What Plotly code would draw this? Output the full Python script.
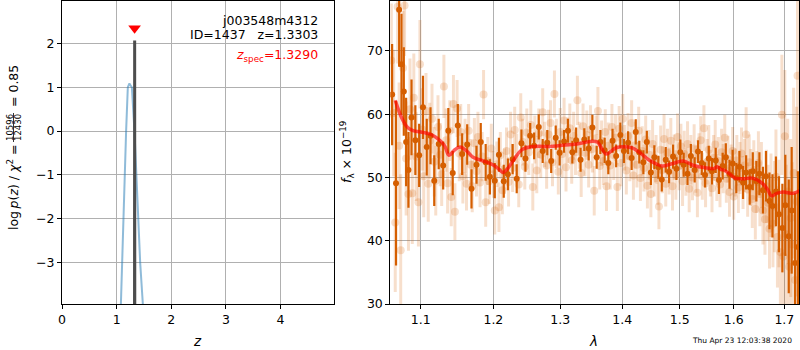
import numpy as np
import plotly.graph_objects as go

# ---------------- redshift fit: log p(z) ----------------
z_spec = 1.3290
z_best = 1.3303

# coarse grid posterior
pz_coarse_z = [1.060, 1.077, 1.100, 1.125, 1.150, 1.174, 1.205, 1.220, 1.235,
               1.250, 1.279, 1.327, 1.358, 1.389, 1.431, 1.480, 1.500]
pz_coarse_logp = [-4.7, -3.95, -3.0, -2.0, -1.0, 0.0, 1.0, 1.07, 1.09,
                  1.05, 1.0, 0.0, -1.0, -2.0, -3.0, -3.95, -4.4]

# fine grid posterior around the peak
pz_fine_z = [1.3250, 1.3303, 1.3356]
pz_fine_logp = [-12.0, 2.07, -12.0]

pz_marker_y = 2.35

# ---------------- 1D spectrum ----------------
dark_wave = [
    1.063, 1.068, 1.072, 1.075, 1.078, 1.081, 1.084, 1.088, 1.093, 1.098,
    1.103, 1.108, 1.113, 1.118, 1.124, 1.130, 1.137, 1.143, 1.150, 1.156,
    1.163, 1.169, 1.176, 1.182, 1.189, 1.195, 1.202, 1.208, 1.215, 1.221,
    1.228, 1.234, 1.241, 1.247, 1.254, 1.260, 1.267, 1.273, 1.280, 1.286,
    1.293, 1.299, 1.306, 1.312, 1.319, 1.325, 1.332, 1.338, 1.345, 1.351,
    1.358, 1.364, 1.371, 1.377, 1.384, 1.390, 1.397, 1.403, 1.410, 1.416,
    1.423, 1.429, 1.436, 1.442, 1.449, 1.455, 1.462, 1.468, 1.475, 1.481,
    1.488, 1.494, 1.501, 1.507, 1.514, 1.520, 1.527, 1.533, 1.540, 1.546,
    1.553, 1.559, 1.566, 1.572, 1.579, 1.585, 1.592, 1.598, 1.605, 1.611,
    1.618, 1.624, 1.631, 1.637, 1.644, 1.650, 1.657, 1.663, 1.670, 1.676,
    1.683, 1.689, 1.696, 1.702, 1.709, 1.715, 1.722, 1.728]
dark_flux = [
    63.1, 49.1, 76.5, 67.9, 63.6, 55.6, 51.2, 59.5, 55.9, 53.5,
    61.1, 54.8, 56.6, 49.5, 55.3, 51.9, 57.4, 50.7, 58.2, 53.7,
    55.2, 48.2, 52.0, 55.6, 52.4, 50.1, 49.5, 53.6, 49.4, 50.5,
    52.9, 49.8, 55.4, 53.0, 56.6, 55.0, 58.0, 54.2, 55.5, 52.6,
    56.3, 53.9, 55.7, 57.4, 54.0, 55.9, 52.8, 56.0, 54.6, 57.9,
    53.2, 55.6, 54.3, 52.3, 55.8, 53.4, 56.7, 54.2, 55.5, 53.1,
    57.2, 54.0, 52.4, 55.6, 50.8, 53.2, 51.6, 49.7, 52.8, 50.9,
    53.3, 51.4, 54.0, 52.0, 50.6, 53.4, 51.2, 54.1, 52.3, 50.4,
    53.0, 51.0, 52.7, 49.6, 51.8, 53.2, 50.5, 52.2, 49.9, 51.7,
    49.2, 50.8, 48.5, 51.0, 49.4, 50.6, 48.0, 50.2, 46.3, 45.5,
    47.8, 44.2, 42.0, 45.6, 40.7, 44.8, 36.5, 39.0]
dark_err = [
    8.0, 13.0, 9.0, 8.0, 7.0, 7.0, 6.0, 6.0, 5.5, 5.0,
    5.0, 4.5, 4.5, 4.0, 4.0, 3.8, 3.6, 3.5, 3.4, 3.3,
    3.2, 3.1, 3.0, 3.0, 2.9, 2.8, 2.8, 2.7, 2.6, 2.5,
    2.4, 2.3, 2.2, 2.1, 2.0, 2.1, 2.0, 1.9, 2.0, 1.9,
    1.9, 2.0, 1.8, 1.9, 1.8, 2.0, 1.9, 1.8, 1.9, 2.0,
    1.8, 1.9, 2.0, 1.8, 1.9, 1.8, 2.0, 1.9, 1.8, 1.9,
    2.0, 1.8, 1.9, 1.8, 2.0, 1.9, 1.8, 1.9, 2.0, 1.8,
    1.9, 1.8, 2.0, 1.9, 1.8, 1.9, 2.0, 1.8, 1.9, 2.0,
    2.0, 2.1, 2.0, 2.2, 2.1, 2.2, 2.3, 2.2, 2.4, 2.5,
    2.6, 2.7, 2.8, 3.0, 3.2, 3.4, 3.7, 4.0, 4.5, 5.0,
    5.5, 6.0, 7.0, 8.0, 9.0, 10.0, 11.0, 12.0]

light_wave = [
    1.062, 1.065, 1.067, 1.070, 1.072, 1.074, 1.077, 1.079, 1.081, 1.084,
    1.086, 1.089, 1.091, 1.094, 1.097, 1.099, 1.102, 1.104, 1.107, 1.110,
    1.112, 1.115, 1.118, 1.120, 1.123, 1.126, 1.128, 1.131, 1.134, 1.136,
    1.139, 1.141, 1.144, 1.146, 1.149, 1.152, 1.154, 1.157, 1.160, 1.162,
    1.165, 1.168, 1.170, 1.173, 1.176, 1.178, 1.181, 1.184, 1.186, 1.189,
    1.192, 1.194, 1.197, 1.200, 1.202, 1.205, 1.208, 1.210, 1.213, 1.216,
    1.219, 1.222, 1.225, 1.228, 1.231, 1.234, 1.237, 1.240, 1.243, 1.246,
    1.249, 1.252, 1.255, 1.258, 1.261, 1.264, 1.267, 1.270, 1.273, 1.276,
    1.279, 1.282, 1.285, 1.288, 1.291, 1.294, 1.297, 1.300, 1.303, 1.306,
    1.309, 1.312, 1.315, 1.318, 1.321, 1.324, 1.327, 1.330, 1.333, 1.336,
    1.339, 1.342, 1.345, 1.348, 1.351, 1.354, 1.357, 1.360, 1.363, 1.366,
    1.369, 1.372, 1.374, 1.377, 1.380, 1.383, 1.386, 1.389, 1.392, 1.395,
    1.398, 1.401, 1.404, 1.407, 1.410, 1.413, 1.416, 1.419, 1.422, 1.425,
    1.428, 1.431, 1.434, 1.437, 1.440, 1.443, 1.446, 1.449, 1.452, 1.455,
    1.458, 1.461, 1.463, 1.466, 1.469, 1.472, 1.475, 1.478, 1.481, 1.484,
    1.487, 1.490, 1.493, 1.496, 1.499, 1.502, 1.505, 1.508, 1.511, 1.514,
    1.517, 1.520, 1.523, 1.526, 1.529, 1.532, 1.535, 1.538, 1.541, 1.544,
    1.547, 1.550, 1.553, 1.556, 1.559, 1.562, 1.565, 1.568, 1.571, 1.574,
    1.577, 1.580, 1.583, 1.586, 1.589, 1.592, 1.595, 1.598, 1.600, 1.603,
    1.606, 1.609, 1.612, 1.615, 1.618, 1.621, 1.624, 1.627, 1.630, 1.633,
    1.636, 1.639, 1.642, 1.645, 1.648, 1.651, 1.654, 1.657, 1.661, 1.664,
    1.667, 1.670, 1.673, 1.677, 1.680, 1.683, 1.686, 1.689, 1.692, 1.695,
    1.698, 1.701, 1.704, 1.707, 1.710, 1.713, 1.716, 1.719, 1.722, 1.725,
    1.727]
light_flux = [
    68.5, 60.2, 42.9, 77.0, 55.0, 38.5, 67.3, 77.2, 53.0, 47.4,
    60.8, 47.5, 62.6, 53.3, 46.1, 67.9, 57.6, 50.2, 60.5, 49.0,
    55.8, 59.3, 52.5, 49.5, 58.0, 53.6, 50.5, 64.4, 55.9, 49.1,
    57.4, 46.9, 61.6, 44.6, 60.9, 53.8, 57.2, 50.2, 55.0, 49.0,
    57.4, 52.0, 48.6, 55.4, 51.0, 56.4, 49.2, 53.3, 63.1, 46.1,
    52.6, 49.4, 54.6, 50.5, 44.8, 52.1, 45.3, 53.5, 48.0, 51.0,
    54.2, 49.3, 56.8, 51.5, 57.5, 53.0, 48.9, 59.5, 55.6, 51.7,
    57.1, 54.0, 58.3, 48.5, 56.0, 51.1, 57.0, 53.6, 60.3, 55.2,
    51.9, 56.8, 58.6, 52.4, 63.2, 55.4, 50.9, 57.2, 53.7, 59.0,
    51.6, 55.9, 57.8, 52.7, 56.6, 54.0, 62.2, 55.1, 50.7, 58.1,
    53.9, 56.7, 52.0, 57.6, 54.5, 47.9, 56.2, 60.5, 51.8, 55.4,
    52.6, 57.2, 48.6, 55.0, 51.9, 58.0, 53.5, 56.3, 48.5, 57.7,
    52.3, 59.3, 54.7, 51.1, 56.5, 53.3, 58.6, 50.3, 55.1, 52.0,
    57.4, 49.9, 54.2, 51.5, 56.0, 48.7, 53.6, 47.4, 55.3, 50.6,
    53.0, 49.6, 45.4, 54.4, 51.2, 56.1, 49.0, 53.9, 51.0, 55.8,
    48.6, 53.2, 50.4, 56.4, 51.8, 54.9, 49.4, 53.7, 50.9, 55.3,
    48.2, 52.8, 50.0, 54.6, 51.3, 47.6, 53.4, 55.9, 50.2, 57.8,
    49.1, 52.5, 54.4, 50.7, 48.3, 53.1, 55.2, 50.0, 52.6, 48.9,
    54.0, 51.4, 56.3, 49.8, 52.9, 47.7, 51.6, 54.2, 47.0, 50.8,
    52.7, 48.4, 51.5, 53.8, 49.2, 51.9, 56.8, 48.1, 52.4, 50.0,
    46.6, 51.2, 45.0, 49.3, 52.3, 47.4, 50.4, 44.8, 43.4, 48.6,
    46.0, 41.9, 47.2, 42.7, 45.4, 50.1, 40.6, 44.3, 38.2, 59.9,
    37.5, 56.5, 41.0, 47.8, 35.9, 43.6, 39.4, 50.7, 33.8, 46.2,
    66.1]
light_err = [
    9.0, 10.0, 11.0, 9.0, 10.0, 12.0, 9.0, 8.0, 9.0, 9.0,
    8.0, 8.0, 7.0, 7.0, 7.0, 7.0, 6.5, 6.5, 6.0, 6.0,
    6.0, 5.5, 5.5, 5.5, 5.0, 5.0, 5.0, 5.0, 5.0, 4.8,
    4.8, 4.6, 4.6, 4.5, 4.5, 4.4, 4.4, 4.3, 4.3, 4.2,
    4.2, 4.1, 4.1, 4.0, 4.0, 4.0, 3.9, 3.9, 3.9, 3.9,
    3.8, 3.6, 3.9, 3.7, 3.8, 3.6, 3.9, 3.7, 3.8, 3.6,
    3.7, 3.9, 3.6, 3.8, 3.7, 3.9, 3.6, 3.8, 3.7, 3.6,
    3.8, 3.6, 3.9, 3.7, 3.8, 3.6, 3.9, 3.7, 3.8, 3.6,
    3.7, 3.9, 3.6, 3.8, 3.7, 3.9, 3.6, 3.8, 3.7, 3.6,
    3.8, 3.6, 3.9, 3.7, 3.8, 3.6, 3.9, 3.7, 3.8, 3.6,
    3.7, 3.9, 3.6, 3.8, 3.7, 3.9, 3.6, 3.8, 3.7, 3.6,
    3.8, 3.6, 3.9, 3.7, 3.8, 3.6, 3.9, 3.7, 3.8, 3.6,
    3.7, 3.9, 3.6, 3.8, 3.7, 3.9, 3.6, 3.8, 3.7, 3.6,
    3.8, 3.6, 3.9, 3.7, 3.8, 3.6, 3.9, 3.7, 3.8, 3.6,
    3.7, 3.9, 3.6, 3.8, 3.7, 3.9, 3.6, 3.8, 3.7, 3.6,
    3.8, 3.6, 3.9, 3.7, 3.8, 3.6, 3.9, 3.7, 3.8, 3.6,
    3.7, 3.9, 3.6, 3.8, 3.7, 3.9, 3.6, 3.8, 3.7, 3.6,
    3.8, 3.6, 3.9, 3.7, 3.8, 3.6, 3.9, 3.7, 3.8, 3.6,
    3.7, 3.9, 3.6, 3.8, 3.7, 3.9, 3.6, 3.8, 3.7, 3.8,
    4.0, 4.0, 4.1, 4.1, 4.2, 4.2, 4.3, 4.3, 4.4, 4.5,
    4.6, 4.7, 4.8, 4.9, 5.0, 5.1, 5.2, 5.4, 5.6, 5.8,
    6.0, 6.3, 6.6, 6.9, 7.2, 7.5, 8.0, 8.5, 9.0, 9.5,
    10.0, 10.5, 11.0, 11.5, 12.0, 12.5, 13.0, 13.5, 14.0, 15.0,
    16.0]

model_wave = [1.067, 1.075, 1.083, 1.090, 1.100, 1.114, 1.126, 1.132, 1.138,
              1.145, 1.153, 1.162, 1.171, 1.186, 1.201, 1.208, 1.214, 1.222,
              1.229, 1.242, 1.260, 1.285, 1.300, 1.326, 1.348, 1.359, 1.366,
              1.373, 1.381, 1.390, 1.416, 1.433, 1.445, 1.457, 1.469, 1.487,
              1.506, 1.525, 1.550, 1.562, 1.569, 1.575, 1.583, 1.593, 1.603,
              1.620, 1.636, 1.657, 1.667, 1.674, 1.685, 1.698, 1.719, 1.735]
model_flux = [62.2, 59.5, 57.9, 57.4, 57.2, 56.8, 55.8, 55.0, 53.5,
              54.3, 54.8, 54.2, 53.2, 52.6, 51.9, 51.3, 50.8, 51.6,
              52.7, 54.4, 54.9, 54.9, 55.05, 55.3, 55.7, 55.6, 54.6,
              53.7, 54.1, 54.7, 54.7, 53.7, 52.8, 52.2, 51.8, 52.2,
              52.6, 51.9, 51.5, 51.4, 51.7, 51.3, 51.1, 50.5, 49.9,
              49.8, 49.9, 49.0, 48.0, 47.1, 47.5, 47.7, 47.5, 48.1]

assert len(dark_wave) == len(dark_flux) == len(dark_err)
assert len(light_wave) == len(light_flux) == len(light_err)
assert len(model_wave) == len(model_flux)

z_ticks = [0, 1, 2, 3, 4]
logp_ticks = [-3, -2, -1, 0, 1, 2]
wave_ticks = [1.1, 1.2, 1.3, 1.4, 1.5, 1.6, 1.7]
flux_ticks = [30, 40, 50, 60, 70]

# ---------------- styling ----------------
W, H = 800, 350
FONT = "DejaVu Sans"
G141 = "#d55e00"
G141_FAINT = "rgba(213,94,0,0.2)"
GRID = "#b0b0b0"


def px_x(x):
    return x / W


def px_y(y):
    return 1 - y / H


fig = go.Figure()

# left panel: p(z)
fig.add_trace(go.Scatter(
    x=pz_coarse_z, y=pz_coarse_logp, mode="lines",
    line=dict(color="rgba(31,119,180,0.5)", width=2),
    xaxis="x", yaxis="y", hoverinfo="skip"))
fig.add_trace(go.Scatter(
    x=pz_fine_z, y=pz_fine_logp, mode="lines",
    line=dict(color="#4d4d4d", width=3),
    xaxis="x", yaxis="y", hoverinfo="skip"))
fig.add_trace(go.Scatter(
    x=[z_spec], y=[pz_marker_y], mode="markers",
    marker=dict(symbol="triangle-down", size=11, color="red"),
    xaxis="x", yaxis="y", hoverinfo="skip"))

# right panel: spectrum
fig.add_trace(go.Scatter(
    x=light_wave, y=light_flux, mode="markers",
    marker=dict(size=8, color=G141_FAINT, line=dict(width=0)),
    error_y=dict(type="data", array=light_err, color=G141_FAINT,
                 thickness=3, width=0),
    xaxis="x2", yaxis="y2", hoverinfo="skip"))
fig.add_trace(go.Scatter(
    x=dark_wave, y=dark_flux, mode="markers",
    marker=dict(size=6, color=G141, line=dict(width=0)),
    error_y=dict(type="data", array=dark_err, color=G141,
                 thickness=2.2, width=0),
    xaxis="x2", yaxis="y2", hoverinfo="skip"))
fig.add_trace(go.Scatter(
    x=model_wave, y=model_flux, mode="lines",
    line=dict(color="rgba(255,0,0,0.65)", width=3.5, shape="spline"),
    xaxis="x2", yaxis="y2", hoverinfo="skip"))

axis_common = dict(
    showgrid=True, gridcolor=GRID, gridwidth=1,
    showline=True, linecolor="black", linewidth=1, mirror=True,
    ticks="outside", ticklen=4, tickcolor="black", tickwidth=1,
    zeroline=False, automargin=False,
    tickfont=dict(family=FONT, size=12.5, color="black"),
)

y_dom = [px_y(304), px_y(1)]

fig.update_layout(
    width=W, height=H,
    margin=dict(l=0, r=0, t=0, b=0, pad=0),
    paper_bgcolor="white", plot_bgcolor="white",
    showlegend=False,
    font=dict(family=FONT, size=12.5, color="black"),
    xaxis=dict(domain=[px_x(62), px_x(334)], range=[0, 4.98],
               tickvals=z_ticks, anchor="y", **axis_common),
    yaxis=dict(domain=y_dom, range=[-3.95, 2.97],
               tickvals=logp_ticks, anchor="x", **axis_common),
    xaxis2=dict(domain=[px_x(390.3), px_x(799)], type="log",
                range=[np.log10(1.0607), np.log10(1.7301)],
                tickvals=wave_ticks, ticktext=[f"{v:.1f}" for v in wave_ticks],
                anchor="y2", **axis_common),
    yaxis2=dict(domain=y_dom, range=[30, 77.9],
                tickvals=flux_ticks, anchor="x2", **axis_common),
)

ann = []


def text(x, y, s, size=12.5, color="black", xanchor="center",
         yanchor="middle", angle=0):
    ann.append(dict(x=px_x(x), y=px_y(y), xref="paper", yref="paper",
                    text=s, showarrow=False, xanchor=xanchor,
                    yanchor=yanchor, textangle=angle,
                    font=dict(family=FONT, size=size, color=color)))


# left panel labels
text(320, 20, "j003548m4312", xanchor="right")
text(320, 35, "ID=1437\u00a0\u00a0\u00a0z=1.3303", xanchor="right")
text(320, 55, "<i>z</i><sub>spec</sub>=1.3290", color="red", xanchor="right")
text(197, 341, "<i>z</i>", size=13.5)

# left y-axis label with stacked fraction
text(13, 188, "log\u2009<i>p</i>(<i>z</i>) / <i>χ</i><sup>2</sup> =", angle=-90)
text(9.5, 127.5, "10596", size=8.5, angle=-90)
text(17.5, 127.5, "12430", size=8.5, angle=-90)
text(13, 86, "= 0.85", angle=-90)

# right panel labels
text(347, 152, "<i>f</i><sub>λ</sub> × 10<sup>−19</sup>", angle=-90)
text(593, 341, "<i>λ</i>", size=13.5)
text(742, 340, "Thu Apr 23 12:03:38 2020", size=7.5)

fig.update_layout(
    annotations=ann,
    shapes=[dict(type="line", xref="paper", yref="paper",
                 x0=px_x(13.5), x1=px_x(13.5), y0=px_y(113), y1=px_y(142),
                 line=dict(color="black", width=0.8))],
)

fig.write_html("out.html")
